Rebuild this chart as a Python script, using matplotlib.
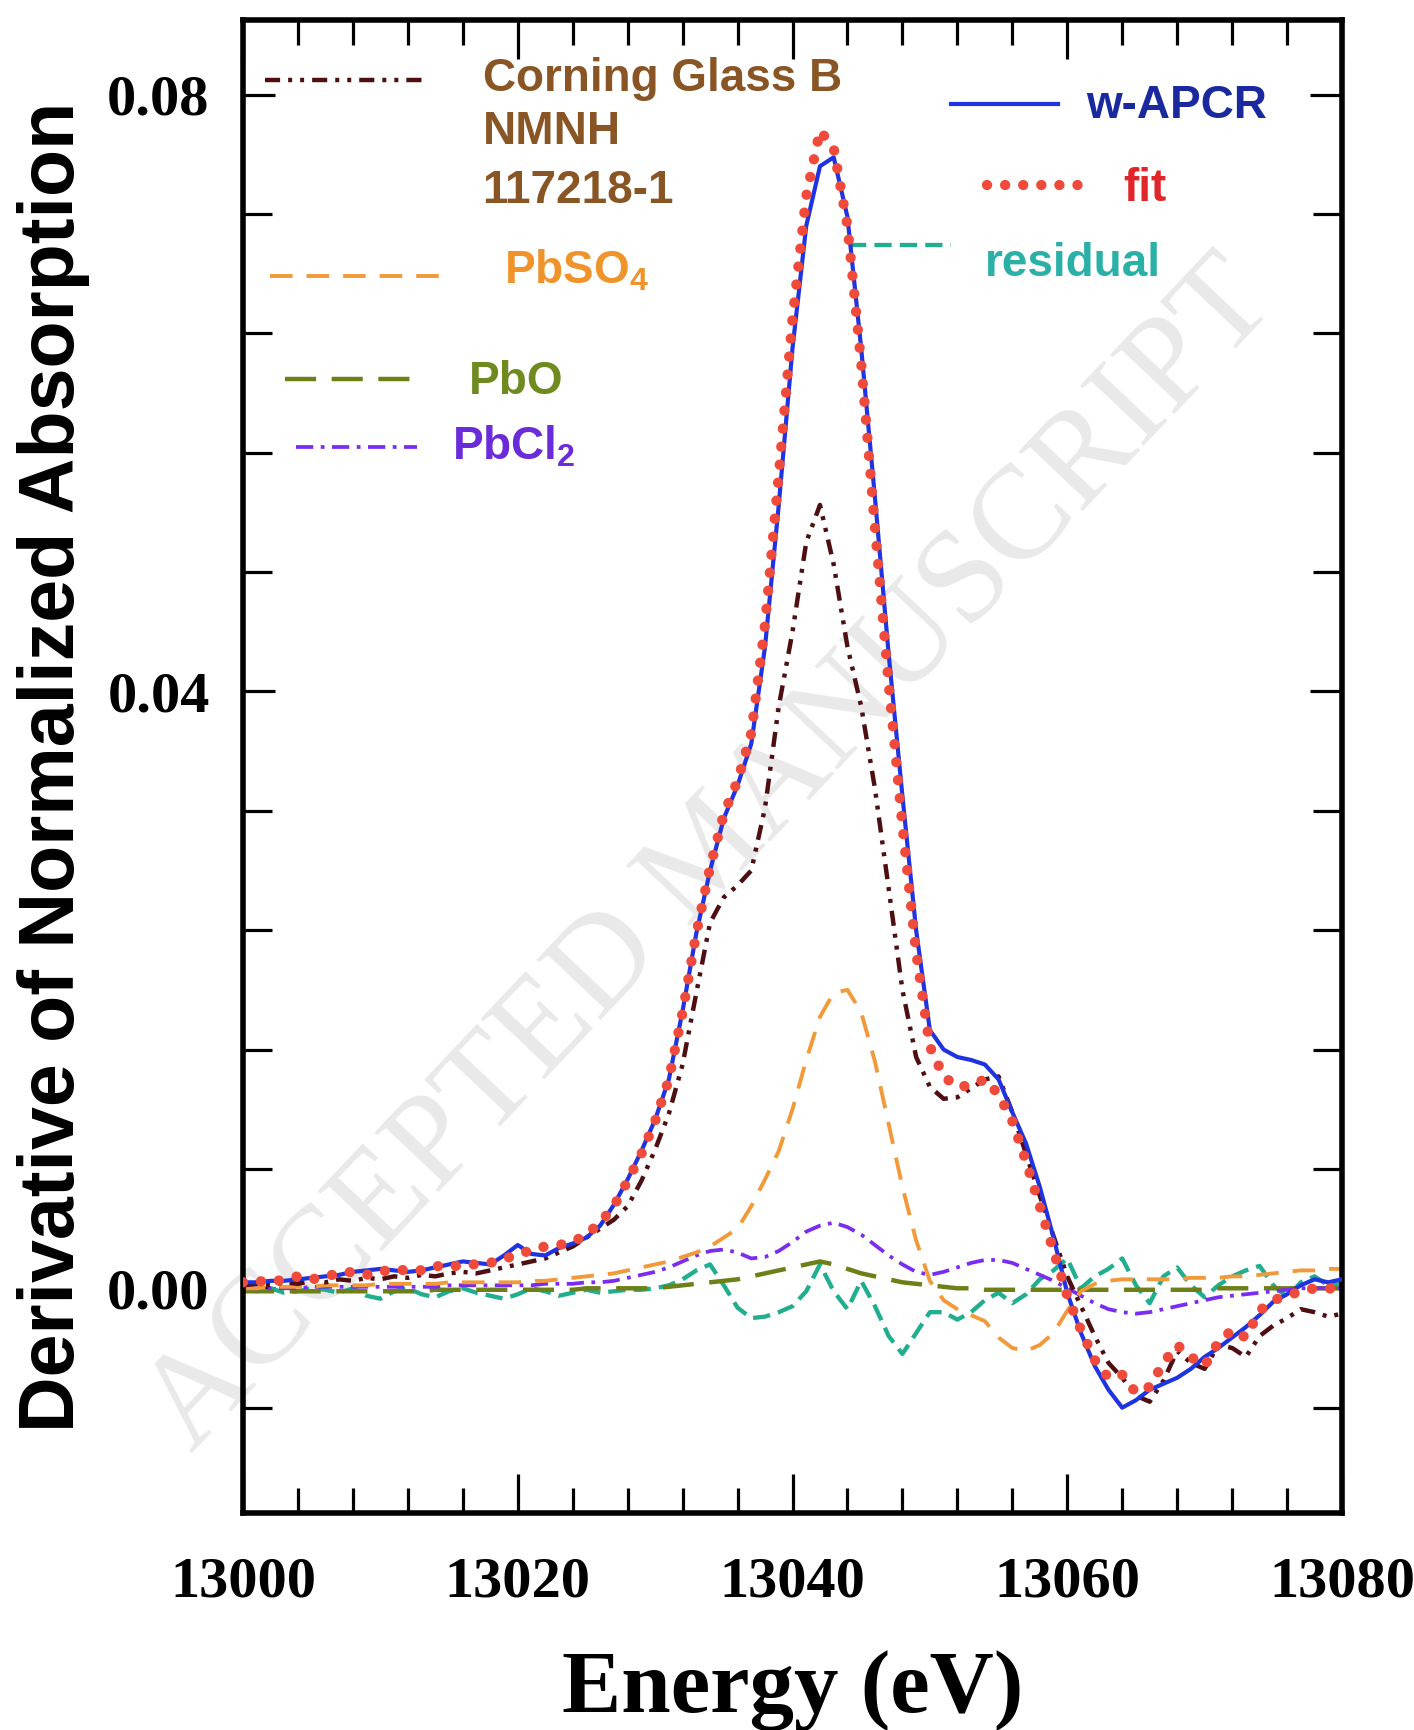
import numpy as np
import matplotlib
matplotlib.use("Agg")
import matplotlib.pyplot as plt
from matplotlib.ticker import MultipleLocator, FormatStrFormatter

plt.rcParams["mathtext.fontset"] = "custom"
plt.rcParams["mathtext.rm"] = "Liberation Sans:bold"
plt.rcParams["mathtext.default"] = "rm"

# ---------------- data ----------------
energy = np.arange(13000, 13081, 1)

w_apcr = [0.0004, 0.0004, 0.0005, 0.0005, 0.0006, 0.0007, 0.0008, 0.0009, 0.0011, 0.0012,
          0.0013, 0.0012, 0.0011, 0.0012, 0.0014, 0.0016, 0.0018, 0.0017, 0.0016, 0.0022,
          0.0029, 0.0023, 0.0022, 0.0027, 0.0030, 0.0034, 0.0042, 0.0056, 0.0073, 0.0092,
          0.0113, 0.0140, 0.0186, 0.0238, 0.0280, 0.0315, 0.0337, 0.0365, 0.0430, 0.0525,
          0.0630, 0.0712, 0.0752, 0.0758, 0.0718, 0.0630, 0.0530, 0.0425, 0.0330, 0.0240,
          0.0173, 0.0160, 0.0155, 0.0153, 0.0150, 0.0140, 0.0118, 0.0097, 0.0068, 0.0034,
          -0.0003, -0.0030, -0.0052, -0.0068, -0.0080, -0.0075, -0.0068, -0.0064, -0.0060, -0.0054,
          -0.0046, -0.0040, -0.0033, -0.0026, -0.0018, -0.0009, -0.0004, 0.0002, 0.0006, 0.0004,
          0.0006]

fit = [0.0004, 0.0005, 0.0004, 0.0006, 0.0008, 0.0006, 0.0008, 0.0010, 0.0011, 0.0009,
       0.0012, 0.0011, 0.0013, 0.0012, 0.0015, 0.0014, 0.0016, 0.0016, 0.0017, 0.0020,
       0.0022, 0.0026, 0.0028, 0.0029, 0.0031, 0.0036, 0.0044, 0.0055, 0.0072, 0.0090,
       0.0112, 0.0140, 0.0185, 0.0238, 0.0282, 0.0318, 0.0340, 0.0372, 0.0445, 0.0545,
       0.0650, 0.0732, 0.0776, 0.0764, 0.0712, 0.0620, 0.0510, 0.0405, 0.0310, 0.0225,
       0.0162, 0.0142, 0.0135, 0.0136, 0.0140, 0.0130, 0.0112, 0.0085, 0.0055, 0.0025,
       -0.0005, -0.0028, -0.0048, -0.0060, -0.0058, -0.0070, -0.0066, -0.0050, -0.0038, -0.0046,
       -0.0052, -0.0036, -0.0028, -0.0033, -0.0015, -0.0008, -0.0005, -0.0002, 0.0000, 0.0000,
       -0.0001]

corning = [0.0002, 0.0003, 0.0002, 0.0004, 0.0003, 0.0005, 0.0004, 0.0006, 0.0005, 0.0007,
           0.0006, 0.0008, 0.0007, 0.0009, 0.0008, 0.0010, 0.0011, 0.0010, 0.0012, 0.0014,
           0.0016, 0.0018, 0.0020, 0.0024, 0.0028, 0.0034, 0.0040, 0.0046, 0.0055, 0.0072,
           0.0093, 0.0117, 0.0150, 0.0198, 0.0245, 0.0262, 0.0270, 0.0280, 0.0322, 0.0390,
           0.0440, 0.0500, 0.0525, 0.0485, 0.0430, 0.0390, 0.0335, 0.0268, 0.0200, 0.0155,
           0.0135, 0.0127, 0.0128, 0.0134, 0.0140, 0.0142, 0.0118, 0.0090, 0.0062, 0.0035,
           0.0008, -0.0012, -0.0032, -0.0050, -0.0060, -0.0072, -0.0076, -0.0062, -0.0042, -0.0050,
           -0.0054, -0.0038, -0.0040, -0.0046, -0.0032, -0.0025, -0.0020, -0.0014, -0.0016, -0.0019,
           -0.0017]

pbso4 = [0.0000, 0.0000, 0.0001, 0.0001, 0.0001, 0.0001, 0.0002, 0.0002, 0.0002, 0.0002,
         0.0003, 0.0003, 0.0003, 0.0003, 0.0003, 0.0004, 0.0004, 0.0004, 0.0004, 0.0004,
         0.0004, 0.0005, 0.0005, 0.0006, 0.0007, 0.0008, 0.0009, 0.0010, 0.0012, 0.0014,
         0.0016, 0.0018, 0.0021, 0.0024, 0.0028, 0.0034, 0.0040, 0.0055, 0.0073, 0.0092,
         0.0120, 0.0153, 0.0182, 0.0198, 0.0200, 0.0185, 0.0152, 0.0110, 0.0068, 0.0032,
         0.0005, -0.0008, -0.0014, -0.0018, -0.0022, -0.0033, -0.0040, -0.0042, -0.0038, -0.0030,
         -0.0015, -0.0002, 0.0003, 0.0005, 0.0006, 0.0006, 0.0006, 0.0006, 0.0006, 0.0007,
         0.0007, 0.0007, 0.0008, 0.0008, 0.0009, 0.0010, 0.0011, 0.0012, 0.0012, 0.0013,
         0.0013]

pbo = [-0.0002, -0.0002, -0.0002, -0.0002, -0.0002, -0.0002, -0.0002, -0.0002, -0.0002, -0.0002,
       -0.0002, -0.0002, -0.0002, -0.0002, -0.0001, -0.0001, -0.0001, -0.0001, -0.0001, -0.0001,
       -0.0001, -0.0001, -0.0001, -0.0001, -0.0001, 0.0000, 0.0000, 0.0000, 0.0000, 0.0000,
       0.0000, 0.0001, 0.0002, 0.0003, 0.0004, 0.0005, 0.0006, 0.0008, 0.0010, 0.0012,
       0.0014, 0.0016, 0.0018, 0.0016, 0.0013, 0.0010, 0.0008, 0.0006, 0.0004, 0.0003,
       0.0002, 0.0001, 0.0000, 0.0000, -0.0001, -0.0001, -0.0001, -0.0001, -0.0001, -0.0001,
       -0.0001, -0.0001, -0.0001, -0.0001, -0.0001, -0.0001, -0.0001, -0.0001, -0.0001, -0.0001,
       -0.0001, 0.0000, 0.0000, 0.0000, 0.0000, 0.0000, 0.0000, 0.0000, 0.0000, 0.0000,
       0.0000]

pbcl2 = [0.0000, 0.0000, 0.0000, 0.0000, 0.0000, 0.0001, 0.0001, 0.0001, 0.0001, 0.0001,
         0.0001, 0.0001, 0.0001, 0.0001, 0.0001, 0.0002, 0.0002, 0.0002, 0.0002, 0.0002,
         0.0002, 0.0002, 0.0003, 0.0003, 0.0003, 0.0004, 0.0004, 0.0005, 0.0007, 0.0009,
         0.0011, 0.0014, 0.0018, 0.0022, 0.0025, 0.0026, 0.0024, 0.0020, 0.0021, 0.0025,
         0.0031, 0.0038, 0.0042, 0.0044, 0.0041, 0.0036, 0.0029, 0.0022, 0.0016, 0.0011,
         0.0009, 0.0011, 0.0014, 0.0017, 0.0019, 0.0019, 0.0017, 0.0013, 0.0009, 0.0005,
         0.0000, -0.0005, -0.0010, -0.0014, -0.0016, -0.0017, -0.0016, -0.0014, -0.0012, -0.0010,
         -0.0008, -0.0006, -0.0005, -0.0004, -0.0003, -0.0002, -0.0001, 0.0000, 0.0000, 0.0000,
         0.0000]

residual = [0.0000, -0.0002, 0.0000, -0.0003, -0.0002, 0.0000, -0.0001, -0.0003, 0.0000, -0.0005,
            -0.0007, -0.0002, 0.0000, -0.0004, -0.0006, -0.0002, 0.0000, -0.0003, -0.0005, -0.0007,
            -0.0004, 0.0000, -0.0002, -0.0005, -0.0003, -0.0001, -0.0003, -0.0002, -0.0001, -0.0001,
            0.0000, 0.0002, 0.0006, 0.0012, 0.0016, 0.0002, -0.0013, -0.0020, -0.0019, -0.0016,
            -0.0012, -0.0002, 0.0016, -0.0002, -0.0014, 0.0005, -0.0012, -0.0032, -0.0044, -0.0030,
            -0.0016, -0.0016, -0.0021, -0.0016, -0.0008, -0.0003, -0.0010, -0.0004, 0.0006, 0.0012,
            0.0020, 0.0000, 0.0008, 0.0013, 0.0020, 0.0002, -0.0010, 0.0008, 0.0014, 0.0002,
            -0.0006, 0.0002, 0.0008, 0.0012, 0.0015, 0.0002, -0.0006, 0.0004, 0.0008, 0.0002,
            0.0003]

x_ticks = [13000, 13020, 13040, 13060, 13080]
y_ticks = [0.00, 0.04, 0.08]

# ---------------- styles ----------------
c_corning = "#4d0f12"
c_apcr = "#1f33e0"
c_fit = "#f04a3a"
c_pbso4 = "#f29a3a"
c_pbo = "#6f7f18"
c_pbcl2 = "#7a2cf0"
c_resid = "#20ae8e"

lw_corning, lw_apcr, lw_fit = 3.2, 3.0, 7.4
lw_pbso4, lw_pbo, lw_pbcl2, lw_resid = 2.8, 3.2, 2.7, 3.1

ls_corning = (0, (3.4, 1.8, 0.9, 1.8, 0.9, 1.8))
ls_fit = (0, (0.01, 1.75))
ls_pbso4 = (0, (5.8, 3.6))
ls_pbo = (0, (7.0, 3.5))
ls_pbcl2 = (0, (4.6, 2.0, 1.0, 2.0))
ls_resid = (0, (4.0, 1.9))

fig = plt.figure(figsize=(14.14, 17.30), dpi=100)
ax = fig.add_axes([243 / 1414, (1730 - 1513) / 1730, 1099 / 1414, 1493 / 1730])

# watermark
ax.text(0.426, 0.44, "ACCEPTED MANUSCRIPT", transform=ax.transAxes, rotation=46.6,
        ha="center", va="center", fontsize=96, family="Liberation Serif",
        color="#e9e9e9", zorder=0.5, clip_on=False)

ax.plot(energy, residual, color=c_resid, lw=lw_resid, linestyle=ls_resid, zorder=2)
ax.plot(energy, pbo, color=c_pbo, lw=lw_pbo, linestyle=ls_pbo, zorder=2)
ax.plot(energy, pbcl2, color=c_pbcl2, lw=lw_pbcl2, linestyle=ls_pbcl2, zorder=2)
ax.plot(energy, pbso4, color=c_pbso4, lw=lw_pbso4, linestyle=ls_pbso4, zorder=2)
ax.plot(energy, corning, color=c_corning, lw=lw_corning, linestyle=ls_corning, zorder=3)
ax.plot(energy, w_apcr, color=c_apcr, lw=lw_apcr, zorder=4)
ax.plot(energy, fit, color=c_fit, lw=lw_fit, linestyle=ls_fit, dash_capstyle="round", zorder=5)

ax.set_xlim(13000, 13080)
ax.set_ylim(-0.01506, 0.0850)

ax.xaxis.set_major_locator(MultipleLocator(20))
ax.xaxis.set_minor_locator(MultipleLocator(4))
ax.yaxis.set_major_locator(MultipleLocator(0.04))
ax.yaxis.set_minor_locator(MultipleLocator(0.008))
ax.set_xticks(x_ticks)
ax.set_yticks(y_ticks)
ax.yaxis.set_major_formatter(FormatStrFormatter("%.2f"))

ax.tick_params(axis="both", which="both", direction="in", top=True, right=True,
               width=2.3, color="black")
ax.tick_params(axis="x", which="major", length=28, pad=31)
ax.tick_params(axis="x", which="minor", length=18)
ax.tick_params(axis="y", which="major", length=23, pad=24)
ax.tick_params(axis="y", which="minor", length=21)
for lab in ax.get_xticklabels() + ax.get_yticklabels():
    lab.set_fontfamily("Liberation Serif")
    lab.set_fontweight("bold")
    lab.set_fontsize(42)

for sp in ax.spines.values():
    sp.set_linewidth(4.0)

ax.set_xlabel("Energy (eV)", fontsize=64, family="Liberation Serif", fontweight="bold")
ax.xaxis.set_label_coords(0.5, -0.092)
ax.set_ylabel("Derivative of Normalized Absorption", fontsize=55.5,
              family="Liberation Sans", fontweight="bold")
ax.yaxis.set_label_coords(-0.139, 0.5)

# ---------------- legend (manual, as in the original) ----------------
lt = dict(family="Liberation Sans", fontweight="bold", fontsize=33)
T = ax.transAxes

ax.plot([0.020, 0.166], [0.960, 0.960], transform=T, color=c_corning, lw=lw_corning,
        linestyle=ls_corning, clip_on=False)
ax.text(0.218, 0.9605, "Corning Glass B", transform=T, color="#8a5524", va="center", **lt)
ax.text(0.218, 0.925, "NMNH", transform=T, color="#8a5524", va="center", **lt)
ax.text(0.218, 0.8855, "117218-1", transform=T, color="#8a5524", va="center", **lt)

ax.plot([0.0246, 0.180], [0.8285, 0.8285], transform=T, color=c_pbso4, lw=lw_pbso4,
        linestyle=ls_pbso4)
ax.text(0.2375, 0.8232, "PbSO$_4$", transform=T, color="#f0932b", va="baseline", **lt)

ax.plot([0.038, 0.160], [0.7595, 0.7595], transform=T, color=c_pbo, lw=lw_pbo,
        linestyle=ls_pbo)
ax.text(0.2055, 0.7495, "PbO", transform=T, color="#6f8a1e", va="baseline", **lt)

ax.plot([0.048, 0.158], [0.714, 0.714], transform=T, color=c_pbcl2, lw=lw_pbcl2,
        linestyle=ls_pbcl2)
ax.text(0.190, 0.7053, "PbCl$_2$", transform=T, color="#6a2bd9", va="baseline", **lt)

ax.plot([0.644, 0.742], [0.944, 0.944], transform=T, color=c_apcr, lw=lw_apcr)
ax.text(0.767, 0.9343, "w-APCR", transform=T, color="#1a2a9e", va="baseline", **lt)

ax.plot([0.677, 0.7725], [0.8895, 0.8895], transform=T, color=c_fit, lw=lw_fit,
        linestyle=ls_fit, dash_capstyle="round")
ax.text(0.8007, 0.8788, "fit", transform=T, color="#e0262a", va="baseline", **lt)

ax.plot([0.551, 0.644], [0.8493, 0.8493], transform=T, color=c_resid, lw=lw_resid,
        linestyle=ls_resid)
ax.text(0.675, 0.8285, "residual", transform=T, color="#2bb0a8", va="baseline", **lt)

fig.savefig("out.png", dpi=100, facecolor="white")
